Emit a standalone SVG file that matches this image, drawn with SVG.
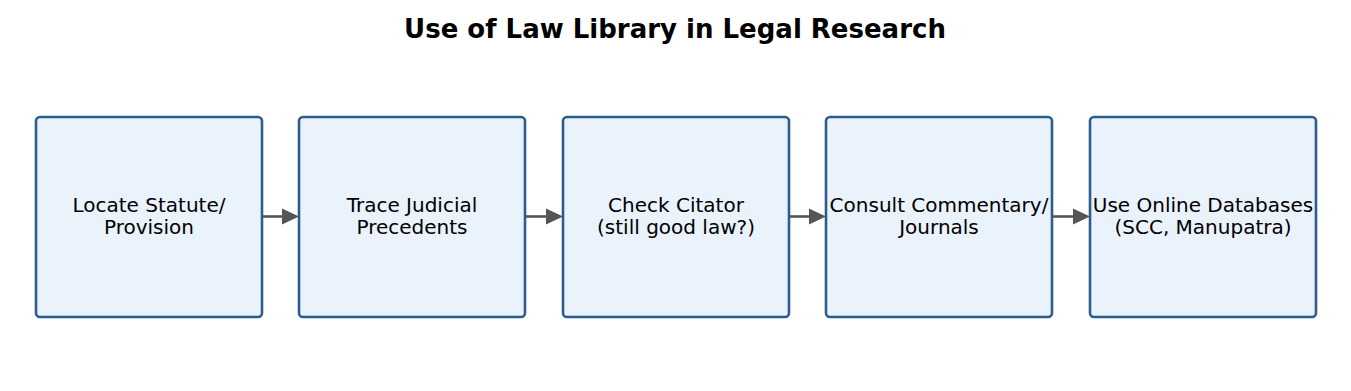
<svg xmlns="http://www.w3.org/2000/svg" width="1351" height="391" viewBox="0 0 1351 391">
<style>
.box{fill:#eaf2fb;stroke:#2c5d8c;stroke-width:2.6}
.lbl{font-family:"DejaVu Sans",sans-serif;font-size:20px;fill:#000;text-anchor:middle}
.title{font-family:"DejaVu Sans",sans-serif;font-size:26px;font-weight:bold;fill:#000;text-anchor:middle}
.conn{stroke:#555;stroke-width:2.6;fill:none}
</style>
<rect width="1351" height="391" fill="#fff"/>
<text class="title" x="675" y="38">Use of Law Library in Legal Research</text>
<g id="connectors">
<path class="conn" d="M262,216.5 H282"/><path d="M282,208.5 L299,216.5 L282,224.5 Z" fill="#555"/>
<path class="conn" d="M525,216.5 H546"/><path d="M546,208.5 L563,216.5 L546,224.5 Z" fill="#555"/>
<path class="conn" d="M789,216.5 H809"/><path d="M809,208.5 L826,216.5 L809,224.5 Z" fill="#555"/>
<path class="conn" d="M1052,216.5 H1073"/><path d="M1073,208.5 L1090,216.5 L1073,224.5 Z" fill="#555"/>
</g>
<g id="n1"><rect class="box" x="36" y="117" width="226" height="200" rx="4"/>
<text class="lbl" x="149" y="212">Locate Statute/</text><text class="lbl" x="149" y="234">Provision</text></g>
<g id="n2"><rect class="box" x="299" y="117" width="226" height="200" rx="4"/>
<text class="lbl" x="412" y="212">Trace Judicial</text><text class="lbl" x="412" y="234">Precedents</text></g>
<g id="n3"><rect class="box" x="563" y="117" width="226" height="200" rx="4"/>
<text class="lbl" x="676" y="212">Check Citator</text><text class="lbl" x="676" y="234">(still good law?)</text></g>
<g id="n4"><rect class="box" x="826" y="117" width="226" height="200" rx="4"/>
<text class="lbl" x="939" y="212">Consult Commentary/</text><text class="lbl" x="939" y="234">Journals</text></g>
<g id="n5"><rect class="box" x="1090" y="117" width="226" height="200" rx="4"/>
<text class="lbl" x="1203" y="212">Use Online Databases</text><text class="lbl" x="1203" y="234">(SCC, Manupatra)</text></g>
</svg>
